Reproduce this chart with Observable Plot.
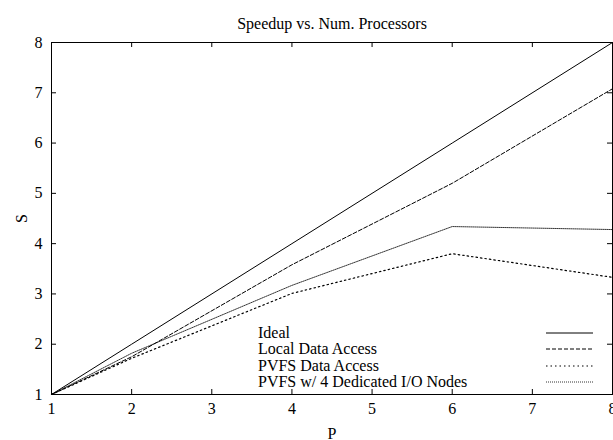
<!DOCTYPE html>
<html>
<head>
<meta charset="utf-8">
<script src="https://cdn.jsdelivr.net/npm/d3@7"></script>
<script src="https://cdn.jsdelivr.net/npm/@observablehq/plot@0.6"></script>
<style>
  html, body { margin: 0; padding: 0; background: #fff; }
  #wrap { position: relative; width: 613px; height: 440px; overflow: hidden; font-family: "Liberation Serif", "DejaVu Serif", serif; }
  #legend { position: absolute; left: 258px; top: 325px; font-size: 16px; color: #000; }
  #legend .row { height: 16.3px; line-height: 16.3px; display: flex; align-items: center; }
  #legend .lab { width: 288px; white-space: nowrap; }
</style>
</head>
<body>
<div id="wrap"></div>
<script>
const title = "Speedup vs. Num. Processors";
const xLabel = "P";
const yLabel = "S";
const xTicks = [1, 2, 3, 4, 5, 6, 7, 8];
const yTicks = [1, 2, 3, 4, 5, 6, 7, 8];
const procs = [1, 2, 4, 6, 8];
const seriesNames = ["Ideal", "Local Data Access", "PVFS Data Access", "PVFS w/ 4 Dedicated I/O Nodes"];
const ideal = [1, 2, 4, 6, 8];
const localAccess = [1, 1.75, 3.58, 5.2, 7.08];
const pvfsAccess = [1, 1.72, 3.01, 3.80, 3.33];
const pvfsDedicated = [1, 1.82, 3.17, 4.34, 4.28];

const seriesValues = [ideal, localAccess, pvfsAccess, pvfsDedicated];
const styles = [
  {stroke: "#000", dash: null, width: 1},
  {stroke: "#000", dash: "4,2", width: 1},
  {stroke: "#000", dash: "1.5,3", width: 1.2},
  {stroke: "#000", dash: "1,1", width: 0.8}
];
const rows = [];
seriesNames.forEach((name, i) => procs.forEach((p, j) => rows.push({series: name, P: p, S: seriesValues[i][j]})));

const W = 613, H = 440;
const mL = 51, mR = 1, mT = 42, mB = 46;
const innerW = W - mL - mR, innerH = H - mT - mB;
const tickLen = 5;

const marks = [
  Plot.frame({stroke: "#000", strokeWidth: 1}),
  // inward ticks on all four sides
  Plot.tickX(xTicks, {x: d => d, insetTop: innerH - tickLen, stroke: "#000"}),
  Plot.tickX(xTicks, {x: d => d, insetBottom: innerH - tickLen, stroke: "#000"}),
  Plot.tickY(yTicks, {y: d => d, insetRight: innerW - tickLen, stroke: "#000"}),
  Plot.tickY(yTicks, {y: d => d, insetLeft: innerW - tickLen, stroke: "#000"}),
  Plot.axisX({ticks: xTicks, tickFormat: "d", tickSize: 0, tickPadding: 8, fontSize: 16, label: xLabel, labelAnchor: "center", labelArrow: "none", labelOffset: 44}),
  Plot.axisY({ticks: yTicks, tickFormat: "d", tickSize: 0, tickPadding: 9, fontSize: 16, label: yLabel, labelAnchor: "center", labelArrow: "none", labelOffset: 36}),
  Plot.text([title], {frameAnchor: "top", dy: -25, fontSize: 16, text: d => d})
];
seriesNames.forEach((name, i) => {
  const st = styles[i];
  marks.push(Plot.line(rows.filter(r => r.series === name), {x: "P", y: "S", stroke: st.stroke, strokeWidth: st.width, strokeDasharray: st.dash}));
});

const chart = Plot.plot({
  width: W, height: H,
  marginLeft: mL, marginRight: mR, marginTop: mT, marginBottom: mB,
  style: {fontFamily: "'Liberation Serif', serif", fontSize: "16px", background: "#fff", color: "#000"},
  x: {domain: [1, 8]},
  y: {domain: [1, 8]},
  marks
});
const wrap = document.getElementById("wrap");
wrap.appendChild(chart);

const legend = document.createElement("div");
legend.id = "legend";
seriesNames.forEach((name, i) => {
  const st = styles[i];
  const row = document.createElement("div");
  row.className = "row";
  const lab = document.createElement("span");
  lab.className = "lab";
  lab.textContent = name;
  row.appendChild(lab);
  const svg = document.createElementNS("http://www.w3.org/2000/svg", "svg");
  svg.setAttribute("width", 48); svg.setAttribute("height", 10);
  const ln = document.createElementNS("http://www.w3.org/2000/svg", "line");
  ln.setAttribute("x1", 0); ln.setAttribute("x2", 47); ln.setAttribute("y1", 5); ln.setAttribute("y2", 5);
  ln.setAttribute("stroke", st.stroke); ln.setAttribute("stroke-width", st.width);
  if (st.dash) ln.setAttribute("stroke-dasharray", st.dash);
  svg.appendChild(ln);
  row.appendChild(svg);
  legend.appendChild(row);
});
wrap.appendChild(legend);
</script>
</body>
</html>
